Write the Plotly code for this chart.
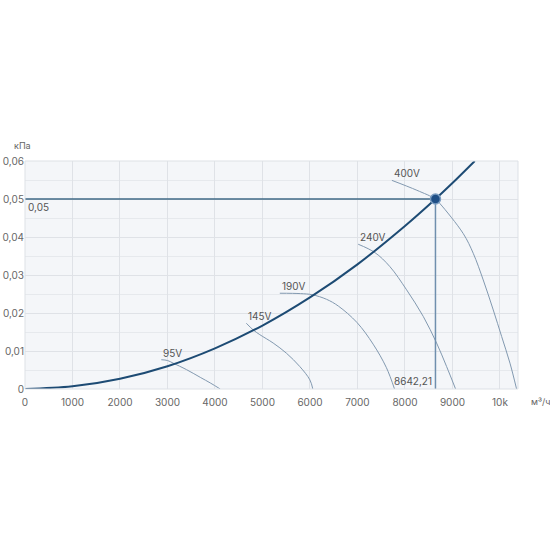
import plotly.graph_objects as go

# system curve (network resistance)
sys_x = [0, 1000, 2000, 3000, 4000, 5000, 6000, 7000, 8000, 8642.21, 9000, 9470]
sys_y = [0, 0.0007, 0.0027, 0.006, 0.0107, 0.0167, 0.0241, 0.0328, 0.0429, 0.05, 0.0542, 0.06]

# fan curves per voltage
fan_95_x = [2870, 3000, 3120, 3400, 3700, 3900, 4110]
fan_95_y = [0.0077, 0.0075, 0.0068, 0.0051, 0.0030, 0.0016, 0]

fan_145_x = [4660, 4800, 4944, 5225, 5506, 5787, 5998, 6060]
fan_145_y = [0.0173, 0.0156, 0.0143, 0.0121, 0.0094, 0.0059, 0.0024, 0]

fan_190_x = [5365, 5800, 6050, 6350, 6600, 6990, 7330, 7610, 7780]
fan_190_y = [0.0252, 0.0251, 0.0248, 0.0236, 0.0218, 0.0175, 0.0118, 0.0056, 0]

fan_240_x = [7015, 7367, 7683, 8034, 8385, 8666, 8877, 9066]
fan_240_y = [0.0381, 0.0359, 0.0322, 0.0261, 0.0191, 0.0121, 0.0059, 0]

fan_400_x = [7725, 8250, 8642, 8736, 9227, 9438, 9648, 9859, 10036, 10211, 10350]
fan_400_y = [0.0549, 0.0523, 0.050, 0.0488, 0.0409, 0.0357, 0.0287, 0.0208, 0.0138, 0.0068, 0]

fan_labels = ["95V", "145V", "190V", "240V", "400V"]

# operating point
op_x = 8642.21
op_y = 0.05

x_ticks = [0, 1000, 2000, 3000, 4000, 5000, 6000, 7000, 8000, 9000, 10000]
x_tick_labels = ["0", "1000", "2000", "3000", "4000", "5000", "6000", "7000", "8000", "9000", "10k"]
y_ticks = [0, 0.01, 0.02, 0.03, 0.04, 0.05, 0.06]
y_tick_labels = ["0", "0,01", "0,02", "0,03", "0,04", "0,05", "0,06"]

fans = [
    (fan_95_x, fan_95_y),
    (fan_145_x, fan_145_y),
    (fan_190_x, fan_190_y),
    (fan_240_x, fan_240_y),
    (fan_400_x, fan_400_y),
]

fig = go.Figure()

# fan curves, thin grey-blue
for fx, fy in fans:
    fig.add_trace(go.Scatter(x=fx, y=fy, mode="lines", line_shape="spline",
                             line=dict(color="#8299b0", width=1), hoverinfo="skip"))

# guide lines to the operating point
fig.add_trace(go.Scatter(x=[0, op_x], y=[op_y, op_y], mode="lines",
                         line=dict(color="#3f6886", width=1.5), hoverinfo="skip"))
fig.add_trace(go.Scatter(x=[op_x, op_x], y=[0, op_y], mode="lines",
                         line=dict(color="#6f8fae", width=1.5), hoverinfo="skip"))

# system curve
fig.add_trace(go.Scatter(x=sys_x, y=sys_y, mode="lines", line_shape="spline",
                         line=dict(color="#1d4b74", width=2), hoverinfo="skip"))

# operating point marker
fig.add_trace(go.Scatter(x=[op_x], y=[op_y], mode="markers",
                         marker=dict(size=10, color="#1f4f86",
                                     line=dict(color="#7a9cc0", width=1.5))))

# voltage labels at the start of each fan curve
for (fx, fy), lab in zip(fans, fan_labels):
    fig.add_annotation(x=fx[0], y=fy[0], text=lab, showarrow=False,
                       xanchor="left", yanchor="bottom", yshift=-1,
                       font=dict(size=10, color="#555"))

fig.add_annotation(x=0, y=op_y, text="0,05", showarrow=False,
                   xanchor="left", yanchor="top", xshift=1,
                   font=dict(size=10, color="#555"))
fig.add_annotation(x=op_x, y=0, text="8642,21", showarrow=False,
                   xanchor="right", yanchor="bottom", xshift=-1,
                   font=dict(size=10, color="#555"))

# axis units
fig.add_annotation(x=-0.026, y=1.07, xref="paper", yref="paper", text="кПа",
                   showarrow=False, xanchor="left", yanchor="middle",
                   font=dict(size=9, color="#666"))
fig.add_annotation(x=1.022, y=-0.057, xref="paper", yref="paper", text="м³/ч",
                   showarrow=False, xanchor="left", yanchor="middle",
                   font=dict(size=9, color="#666"))

# plot frame
fig.add_shape(type="rect", xref="paper", yref="paper", x0=0, x1=1, y0=0, y1=1,
              line=dict(color="#dde1e6", width=1))

fig.update_layout(
    width=550, height=550,
    margin=dict(l=25, r=32, t=161, b=161),
    showlegend=False,
    paper_bgcolor="white",
    plot_bgcolor="#f4f6f9",
    font=dict(family="Inter", size=10, color="#666"),
)
fig.update_xaxes(range=[0, 10380], tickvals=x_ticks, ticktext=x_tick_labels,
                 showgrid=True, gridcolor="#dfe2e7", zeroline=False, ticks="",
                 ticklabelstandoff=6, automargin=False)
fig.update_yaxes(range=[0, 0.06], tickvals=y_ticks, ticktext=y_tick_labels,
                 showgrid=True, gridcolor="#dfe2e7", zeroline=False, ticks="",
                 automargin=False,
                 minor=dict(dtick=0.005, showgrid=True, gridcolor="#e6e9ed"))

# drop the page's default body margin so the figure sits at the window corner
fig.write_html("out.html", config={"displayModeBar": False},
               post_script="document.body.style.margin='0';")
